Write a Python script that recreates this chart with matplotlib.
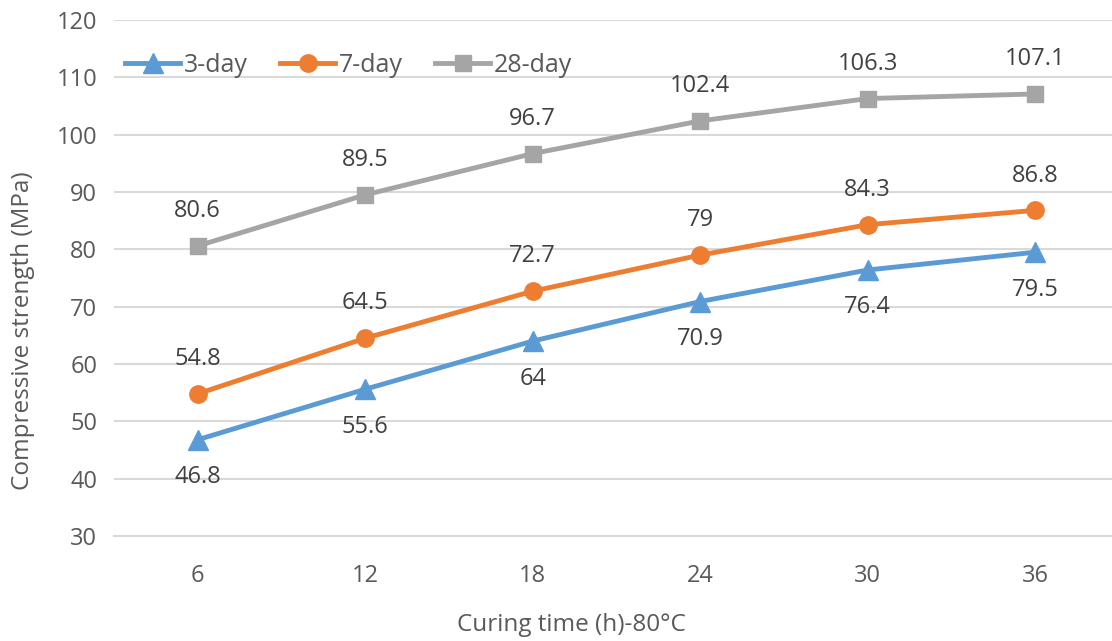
import matplotlib.pyplot as plt

plt.rcParams['font.family'] = ['Open Sans', 'DejaVu Sans']

# data
curing_hours = ['6', '12', '18', '24', '30', '36']
day3 = [46.8, 55.6, 64, 70.9, 76.4, 79.5]
day7 = [54.8, 64.5, 72.7, 79, 84.3, 86.8]
day28 = [80.6, 89.5, 96.7, 102.4, 106.3, 107.1]
series_names = ['3-day', '7-day', '28-day']

blue = '#5B9BD5'
orange = '#ED7D31'
grey = '#A5A5A5'
txt = '#404040'
axis_txt = '#595959'
fs = 17

fig = plt.figure(figsize=(11.12, 6.41), dpi=100)
ax = fig.add_axes([0.1025, 0.1638, 0.9038, 0.805])

x = list(range(len(curing_hours)))
ax.plot(x, day3, color=blue, lw=3.5, marker='^', ms=15, label=series_names[0], zorder=3)
ax.plot(x, day7, color=orange, lw=3.5, marker='o', ms=12.5, label=series_names[1], zorder=3)
ax.plot(x, day28, color=grey, lw=3.5, marker='s', ms=12, label=series_names[2], zorder=3)

# data labels: 3-day below, others above
for xi, v in zip(x, day3):
    ax.annotate(f'{v:g}', (xi, v), xytext=(0, -27), textcoords='offset points',
                ha='center', va='center', fontsize=fs, color=txt)
for ys in (day7, day28):
    for xi, v in zip(x, ys):
        ax.annotate(f'{v:g}', (xi, v), xytext=(0, 25), textcoords='offset points',
                    ha='center', va='center', fontsize=fs, color=txt)

ax.set_xlim(-0.5, 5.5)
ax.set_ylim(30, 120)
ax.set_yticks(range(30, 121, 10))
ax.set_xticks(x)
ax.set_xticklabels(curing_hours)
ax.grid(axis='y', color='#D9D9D9', lw=1.5)
ax.set_axisbelow(True)
for s in ['top', 'right', 'left']:
    ax.spines[s].set_visible(False)
ax.spines['bottom'].set_color('#D9D9D9')
ax.spines['bottom'].set_linewidth(1.5)
ax.tick_params(length=0, labelsize=fs, colors=axis_txt, pad=20)
ax.tick_params(axis='y', pad=12)

# axis titles placed like the Excel chart (centred on the chart area, not the plot)
fig.text(571 / 1112, 1 - 625 / 641, 'Curing time (h)-80°C', fontsize=17.5,
         color=axis_txt, ha='center', va='center')
fig.text(23 / 1112, 1 - 331 / 641, 'Compressive strength (MPa)', fontsize=17.5,
         color=axis_txt, ha='center', va='center', rotation=90)

leg = ax.legend(loc='center left', bbox_to_anchor=(125 / 1112, 1 - 65 / 641),
                bbox_transform=fig.transFigure, ncol=3, frameon=False,
                fontsize=18, handlelength=2.2, columnspacing=1.3, handletextpad=0.15,
                borderpad=0, borderaxespad=0)
for t in leg.get_texts():
    t.set_color(axis_txt)

fig.savefig('out.png', dpi=100)
